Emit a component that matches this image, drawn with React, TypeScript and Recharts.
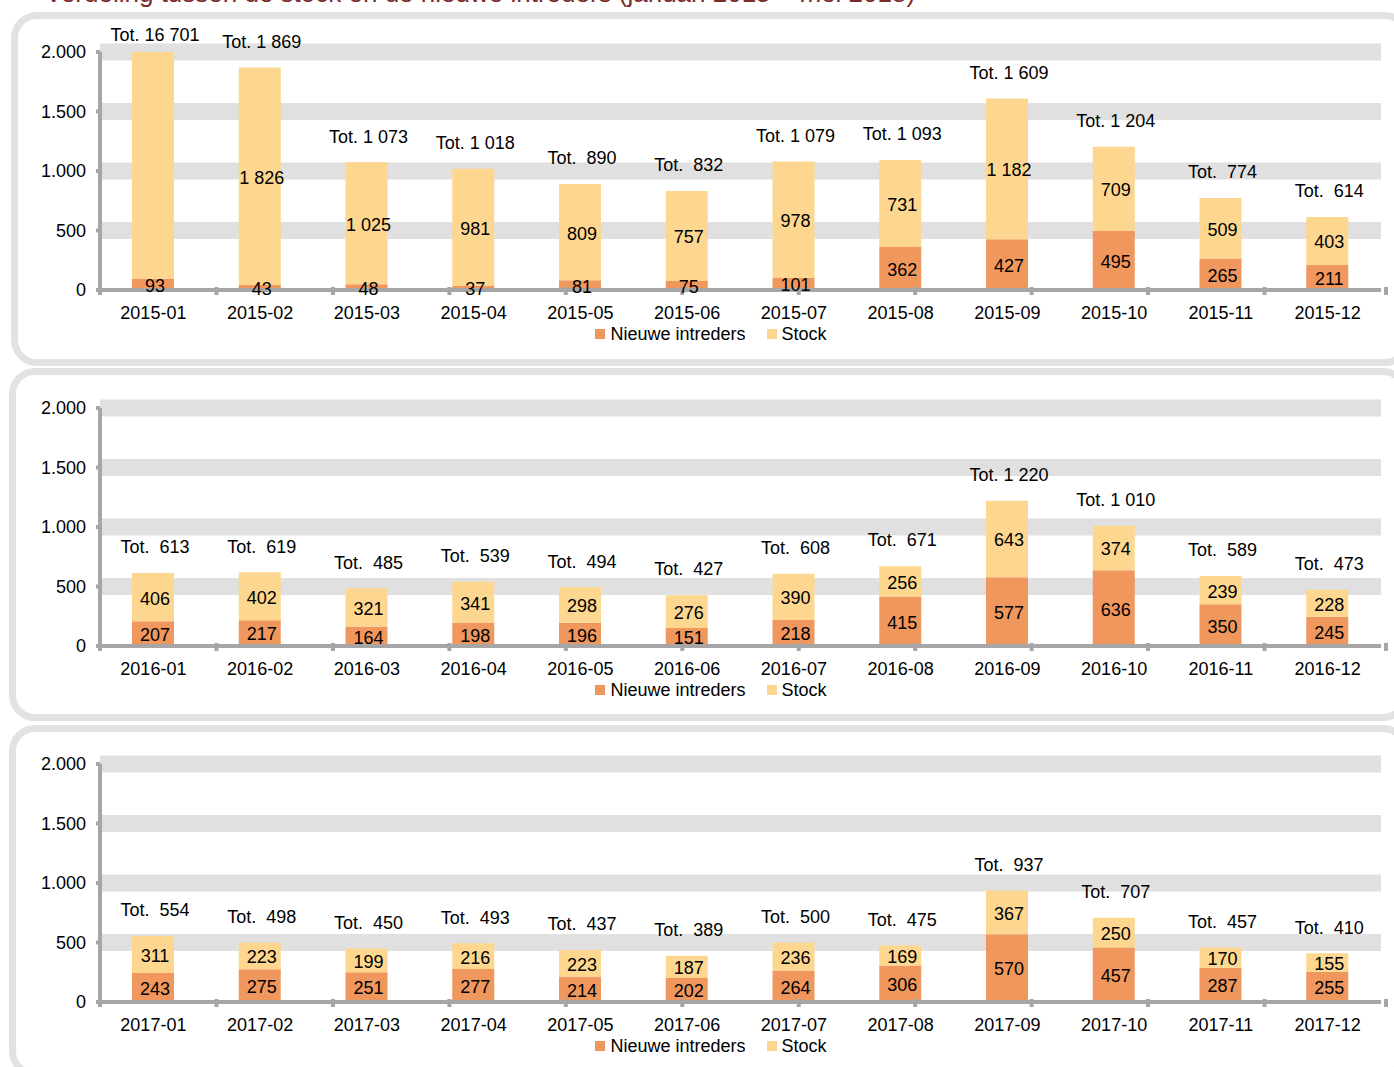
import React from 'react';
import { BarChart, Bar, XAxis, YAxis, CartesianGrid, LabelList, Legend } from 'recharts';

// categories
const months2015 = ['2015-01', '2015-02', '2015-03', '2015-04', '2015-05', '2015-06', '2015-07', '2015-08', '2015-09', '2015-10', '2015-11', '2015-12'];
const months2016 = ['2016-01', '2016-02', '2016-03', '2016-04', '2016-05', '2016-06', '2016-07', '2016-08', '2016-09', '2016-10', '2016-11', '2016-12'];
const months2017 = ['2017-01', '2017-02', '2017-03', '2017-04', '2017-05', '2017-06', '2017-07', '2017-08', '2017-09', '2017-10', '2017-11', '2017-12'];

// series values
const nieuwe2015 = [93, 43, 48, 37, 81, 75, 101, 362, 427, 495, 265, 211];
const stock2015 = [16608, 1826, 1025, 981, 809, 757, 978, 731, 1182, 709, 509, 403];
const nieuwe2016 = [207, 217, 164, 198, 196, 151, 218, 415, 577, 636, 350, 245];
const stock2016 = [406, 402, 321, 341, 298, 276, 390, 256, 643, 374, 239, 228];
const nieuwe2017 = [243, 275, 251, 277, 214, 202, 264, 306, 570, 457, 287, 255];
const stock2017 = [311, 223, 199, 216, 223, 187, 236, 169, 367, 250, 170, 155];

// axis
const yTicks = [0, 500, 1000, 1500, 2000];
const bandValues = [500, 1000, 1500, 2000];
const edgeTicks = [0, 1, 2, 3, 4, 5, 6, 7, 8, 9, 10, 11, 12];
const Y_MAX = 2000;

const TITLE = 'Verdeling tussen de stock en de nieuwe intreders (januari 2015 – mei 2018)';

const FONT = '"Liberation Sans", Arial, sans-serif';
const ORANGE = '#F0975E';
const YELLOW = '#FDD78F';
const AXIS = '#A6A6A6';
const BAND = '#E0E0E0';
const BORDER = '#E2E2E2';

const CHART_W = 1394;
const CHART_H = 356;

const spaced = (v: number) => String(v).replace(/\B(?=(\d{3})+(?!\d))/g, ' ');
const dotted = (v: number) => String(v).replace(/\B(?=(\d{3})+(?!\d))/g, '.');
const totalText = (v: number) => `Tot. ${v < 1000 ? ' ' : ''}${spaced(v)}`;

const TotalLabel = (props: any) => {
  const vb = props.viewBox || props;
  const x = props.x ?? vb.x;
  const y = props.y ?? vb.y;
  const width = props.width ?? vb.width;
  const cy = Math.max(y - 26, 35);
  return (
    <text
      x={x + width / 2 + 2}
      y={cy}
      dy="0.35em"
      textAnchor="middle"
      fontSize={18}
      fill="#000"
      style={{ whiteSpace: 'pre', fontFamily: FONT }}
    >
      {totalText(props.value)}
    </text>
  );
};

const CategoryTick = (props: any) => {
  const { x, y, payload } = props;
  return (
    <text x={x} y={y + 23} dy="0.35em" textAnchor="middle" fontSize={18} fill="#000" style={{ fontFamily: FONT }}>
      {payload.value}
    </text>
  );
};

const EdgeTick = (props: any) => {
  const { x, y } = props;
  return <rect x={x - 2} y={y - 3} width={4} height={8} fill={AXIS} />;
};

const renderLegend = (props: any) => {
  const { payload } = props;
  return (
    <div
      style={{
        display: 'flex',
        justifyContent: 'center',
        fontSize: 18,
        lineHeight: '24px',
        color: '#000',
        fontFamily: FONT,
      }}
    >
      {payload.map((p: any, i: number) => (
        <span
          key={i}
          style={{ display: 'inline-flex', alignItems: 'center', marginRight: i === payload.length - 1 ? 0 : 21 }}
        >
          <span style={{ display: 'inline-block', width: 10, height: 10, background: p.color, marginRight: 5 }} />
          {p.value}
        </span>
      ))}
    </div>
  );
};

function YearChart({ months, nieuwe, stock }: { months: string[]; nieuwe: number[]; stock: number[] }) {
  const data = months.map((m, i) => ({
    month: m,
    nieuwe: nieuwe[i],
    stock: stock[i],
    total: nieuwe[i] + stock[i],
  }));

  return (
    <BarChart
      width={CHART_W}
      height={CHART_H}
      data={data}
      margin={{ top: 52, right: 13, left: 0, bottom: 10 }}
      style={{ fontFamily: FONT }}
    >
      <CartesianGrid vertical={false} horizontalValues={bandValues} stroke={BAND} strokeWidth={17} />
      <XAxis
        dataKey="month"
        height={32}
        interval={0}
        tickSize={0}
        tickMargin={0}
        tickLine={false}
        axisLine={{ stroke: AXIS, strokeWidth: 4 }}
        tick={<CategoryTick />}
      />
      <XAxis
        xAxisId="edges"
        type="number"
        domain={[0, 12]}
        ticks={edgeTicks}
        allowDataOverflow
        mirror
        tickSize={0}
        tickMargin={0}
        tickLine={false}
        axisLine={false}
        tick={<EdgeTick />}
      />
      <YAxis
        width={100}
        domain={[0, Y_MAX]}
        ticks={yTicks}
        allowDataOverflow
        interval={0}
        tickFormatter={dotted}
        axisLine={{ stroke: AXIS, strokeWidth: 4 }}
        tickLine={{ stroke: AXIS, strokeWidth: 4 }}
        tickSize={4}
        tickMargin={10}
        tick={{ fill: '#000', fontSize: 18 }}
      />
      <Legend
        verticalAlign="bottom"
        content={renderLegend}
        wrapperStyle={{ height: 24, left: 41, width: 1340 }}
      />
      <Bar dataKey="nieuwe" name="Nieuwe intreders" stackId="a" fill={ORANGE} barSize={42} isAnimationActive={false}>
        <LabelList
          dataKey="nieuwe"
          position="center"
          fill="#000"
          fontSize={18}
          dx={2}
          dy={1}
          formatter={(v: any) => (v > Y_MAX ? '' : spaced(v))}
        />
      </Bar>
      <Bar dataKey="stock" name="Stock" stackId="a" fill={YELLOW} barSize={42} isAnimationActive={false}>
        <LabelList
          dataKey="stock"
          position="center"
          fill="#000"
          fontSize={18}
          dx={2}
          dy={1}
          formatter={(v: any) => (v > Y_MAX ? '' : spaced(v))}
        />
        <LabelList dataKey="total" content={<TotalLabel />} />
      </Bar>
    </BarChart>
  );
}

const panelStyle = (left: number, top: number, height: number): React.CSSProperties => ({
  position: 'absolute',
  left,
  top,
  width: 1400,
  height,
  boxSizing: 'border-box',
  border: `7px solid ${BORDER}`,
  borderRadius: 26,
});

export default function App() {
  return (
    <div
      style={{
        position: 'fixed',
        left: 0,
        top: 0,
        width: 1394,
        height: 1067,
        overflow: 'hidden',
        background: '#fff',
        fontFamily: FONT,
      }}
    >
      <div
        style={{
          position: 'absolute',
          left: 45,
          top: -22,
          fontSize: 26,
          lineHeight: '30px',
          color: '#7B2B2B',
          whiteSpace: 'nowrap',
        }}
      >
        {TITLE}
      </div>
      <div style={panelStyle(11, 12, 354)} />
      <div style={panelStyle(9, 368, 353)} />
      <div style={panelStyle(9, 725, 352)} />
      <div style={{ position: 'absolute', left: 0, top: 0 }}>
        <YearChart months={months2015} nieuwe={nieuwe2015} stock={stock2015} />
      </div>
      <div style={{ position: 'absolute', left: 0, top: 356 }}>
        <YearChart months={months2016} nieuwe={nieuwe2016} stock={stock2016} />
      </div>
      <div style={{ position: 'absolute', left: 0, top: 712 }}>
        <YearChart months={months2017} nieuwe={nieuwe2017} stock={stock2017} />
      </div>
    </div>
  );
}
